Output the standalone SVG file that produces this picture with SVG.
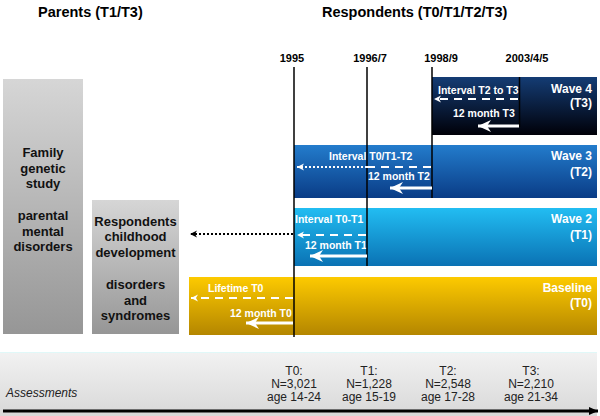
<svg xmlns="http://www.w3.org/2000/svg" width="600" height="416" viewBox="0 0 600 416">
<defs>
<linearGradient id="gW4" x1="0" y1="0" x2="0" y2="1"><stop offset="0" stop-color="#143c74"/><stop offset="1" stop-color="#000008"/></linearGradient>
<linearGradient id="gW3" x1="0" y1="0" x2="0" y2="1"><stop offset="0" stop-color="#237ccc"/><stop offset="1" stop-color="#0a3c86"/></linearGradient>
<linearGradient id="gW2" x1="0" y1="0" x2="0" y2="1"><stop offset="0" stop-color="#22bdf2"/><stop offset="1" stop-color="#0a72b4"/></linearGradient>
<linearGradient id="gB" x1="0" y1="0" x2="0" y2="1"><stop offset="0" stop-color="#fdca00"/><stop offset="1" stop-color="#b48600"/></linearGradient>
<linearGradient id="gG" x1="0" y1="0" x2="0" y2="1"><stop offset="0" stop-color="#d6d6d6"/><stop offset="1" stop-color="#969696"/></linearGradient>
<linearGradient id="gA" x1="0" y1="0" x2="0" y2="1"><stop offset="0" stop-color="#f2f2f2"/><stop offset="1" stop-color="#d8d8d8"/></linearGradient>
<marker id="mSw" markerUnits="userSpaceOnUse" markerWidth="8" markerHeight="8" refX="7" refY="4" orient="auto" overflow="visible"><path d="M0,0.5 L7,4 L0,7.5 L2,4 z" fill="#fff"/></marker>
<marker id="mSk" markerUnits="userSpaceOnUse" markerWidth="8" markerHeight="8" refX="7" refY="4" orient="auto" overflow="visible"><path d="M0,0.5 L7,4 L0,7.5 L2,4 z" fill="#000"/></marker>
<marker id="mLw" markerUnits="userSpaceOnUse" markerWidth="14" markerHeight="12" refX="13" refY="6" orient="auto" overflow="visible"><path d="M0,0 L13,6 L0,12 L4,6 z" fill="#fff"/></marker>
<marker id="mLk" markerUnits="userSpaceOnUse" markerWidth="10" markerHeight="10" refX="9" refY="5" orient="auto" overflow="visible"><path d="M0,1 L9,5 L0,9 z" fill="#000"/></marker>
</defs>
<style>
.t{font-family:"Liberation Sans",Arial,sans-serif;}
.title{font-size:14.5px;font-weight:bold;fill:#000;}
.yr{font-size:11px;font-weight:bold;fill:#000;text-anchor:middle;}
.box{font-size:13px;font-weight:bold;fill:#111;text-anchor:middle;}
.wv{font-size:12px;font-weight:bold;fill:#fff;text-anchor:end;}
.lb{font-size:10.5px;font-weight:bold;fill:#fff;}
.as{font-size:12px;fill:#222;text-anchor:middle;}
.vl{stroke:#000;stroke-width:1.5;fill:none;}
.dash{stroke:#fff;stroke-width:2;stroke-dasharray:8 6;fill:none;}
.dotw{stroke:#fff;stroke-width:2;stroke-dasharray:2 2;fill:none;}
.dotk{stroke:#000;stroke-width:2;stroke-dasharray:2 2;fill:none;}
.solid{stroke:#fff;stroke-width:3;fill:none;}
</style>
<rect width="600" height="416" fill="#fff"/>
<text class="t title" x="38" y="17">Parents (T1/T3)</text>
<text class="t title" x="322" y="17">Respondents (T0/T1/T2/T3)</text>
<text class="t yr" x="292" y="62">1995</text>
<text class="t yr" x="370" y="62">1996/7</text>
<text class="t yr" x="441" y="62">1998/9</text>
<text class="t yr" x="527" y="62">2003/4/5</text>
<g id="parents-box">
<rect x="3" y="79" width="80" height="255" fill="url(#gG)"/>
<text class="t box" x="43"><tspan x="43" y="157">Family</tspan><tspan x="43" y="172.5">genetic</tspan><tspan x="43" y="188">study</tspan><tspan x="43" y="220">parental</tspan><tspan x="43" y="235.5">mental</tspan><tspan x="43" y="251">disorders</tspan></text>
</g>
<g id="respondents-box">
<rect x="92" y="200" width="87" height="134" fill="url(#gG)"/>
<text class="t box" x="135.5"><tspan x="135.5" y="225.5">Respondents</tspan><tspan x="135.5" y="241">childhood</tspan><tspan x="135.5" y="257">development</tspan><tspan x="135.5" y="288.5">disorders</tspan><tspan x="135.5" y="304.5">and</tspan><tspan x="135.5" y="320">syndromes</tspan></text>
</g>
<g id="wave4">
<rect x="432" y="77" width="165" height="58" fill="url(#gW4)"/>
<text class="t wv" x="592" y="93">Wave 4</text>
<text class="t wv" x="592" y="107">(T3)</text>
<text class="t lb" x="438" y="94">Interval T2 to T3</text>
<text class="t lb" x="453" y="117">12 month T3</text>
</g>
<g id="wave3">
<rect x="294" y="145" width="303" height="53" fill="url(#gW3)"/>
<text class="t wv" x="592" y="160">Wave 3</text>
<text class="t wv" x="592" y="176">(T2)</text>
<text class="t lb" x="329" y="160">Interval T0/T1-T2</text>
<text class="t lb" x="368" y="180">12 month T2</text>
</g>
<g id="wave2">
<rect x="294" y="208" width="303" height="58" fill="url(#gW2)"/>
<text class="t wv" x="592" y="223">Wave 2</text>
<text class="t wv" x="592" y="239">(T1)</text>
<text class="t lb" x="295" y="223">Interval T0-T1</text>
<text class="t lb" x="305" y="249">12 month T1</text>
</g>
<g id="baseline">
<rect x="189" y="277" width="408" height="58" fill="url(#gB)"/>
<text class="t wv" x="592" y="292">Baseline</text>
<text class="t wv" x="592" y="307">(T0)</text>
<text class="t lb" x="208" y="292">Lifetime T0</text>
<text class="t lb" x="230" y="317">12 month T0</text>
</g>
<g id="assessments">
<rect x="0" y="352" width="597" height="64" fill="url(#gA)"/>
<line x1="0" y1="352.5" x2="597" y2="352.5" stroke="#e0f8f8" stroke-width="1"/>
<text class="t" x="6" y="397" font-size="12" font-style="italic" fill="#222">Assessments</text>
<text class="t as"><tspan x="294" y="375">T0:</tspan><tspan x="294" y="388">N=3,021</tspan><tspan x="294" y="401">age 14-24</tspan></text>
<text class="t as"><tspan x="369" y="375">T1:</tspan><tspan x="369" y="388">N=1,228</tspan><tspan x="369" y="401">age 15-19</tspan></text>
<text class="t as"><tspan x="448" y="375">T2:</tspan><tspan x="448" y="388">N=2,548</tspan><tspan x="448" y="401">age 17-28</tspan></text>
<text class="t as"><tspan x="531" y="375">T3:</tspan><tspan x="531" y="388">N=2,210</tspan><tspan x="531" y="401">age 21-34</tspan></text>
</g>
<g id="connectors">
<line class="vl" x1="294" y1="67" x2="294" y2="337"/>
<line class="vl" x1="367" y1="67" x2="367" y2="266"/>
<line class="vl" x1="432" y1="67" x2="432" y2="198"/>
<line class="vl" x1="519.5" y1="77" x2="519.5" y2="127"/>
<line class="dash" x1="518" y1="99" x2="434" y2="99" marker-end="url(#mSw)"/>
<line class="solid" x1="519" y1="126" x2="478" y2="126" marker-end="url(#mLw)"/>
<line class="dash" x1="431" y1="167" x2="367" y2="167"/>
<line class="dotw" x1="367" y1="167" x2="297" y2="167" marker-end="url(#mSw)"/>
<line class="solid" x1="432" y1="188" x2="390" y2="188" marker-end="url(#mLw)"/>
<line class="dash" x1="366" y1="235" x2="297" y2="235" marker-end="url(#mSw)"/>
<line class="dotk" x1="293" y1="234" x2="190" y2="234" marker-end="url(#mSk)"/>
<line class="solid" x1="367" y1="256" x2="310" y2="256" marker-end="url(#mLw)"/>
<line class="dash" x1="293" y1="298" x2="191" y2="298" marker-end="url(#mSw)"/>
<line class="solid" x1="293" y1="323" x2="246" y2="323" marker-end="url(#mLw)"/>
<line x1="3" y1="411" x2="598" y2="411" stroke="#000" stroke-width="3" marker-end="url(#mLk)"/>
</g>
</svg>
